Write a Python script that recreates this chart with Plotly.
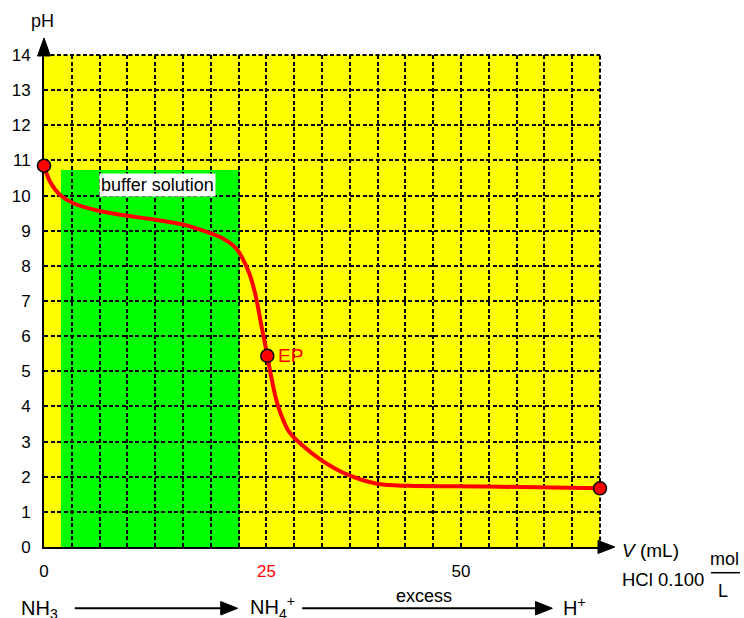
import plotly.graph_objects as go

# ---------------- data ----------------
volume_ml = [0, 0.67, 1.8, 3.3, 6.25, 9.2, 12.6, 15.9, 17.9, 20.1, 21.6, 22.3, 23.07, 23.6,
             24.0, 24.4, 24.75, 25.1, 25.5, 26.0, 26.6, 27.5, 29.0, 31.25, 34.2, 37.6, 41.0, 50.0, 62.5]
ph_values = [10.85, 10.40, 10.02, 9.78, 9.56, 9.43, 9.31, 9.16, 9.00, 8.78, 8.50, 8.22, 7.79, 7.35,
             6.90, 6.35, 5.90, 5.44, 4.90, 4.30, 3.80, 3.30, 2.90, 2.46, 2.05, 1.79, 1.74, 1.72, 1.67]

marker_x = [0, 25.1, 62.5]
marker_y = [10.85, 5.44, 1.67]

buffer_x = [1.9, 22.0]
buffer_ph_top = 10.73
buffer_label = "buffer solution"
buffer_label_pos = (12.8, 10.3)

x_tick_pos = [0, 25, 46.875]
x_tick_labels = ["0", "<span style='color:#FF0000'>25</span>", "50"]
x_grid_step = 3.125
x_max = 62.5
y_ticks = list(range(0, 15))

FONT = "Liberation Sans, Arial, sans-serif"

# plot area in pixels (for outside-plot annotations)
L, R, T, B = 40, 600, 55, 547
def px(x):
    return (x - L) / (R - L)
def py(y):
    return (B - y) / (B - T)

fig = go.Figure()

fig.add_trace(go.Scatter(
    x=volume_ml, y=ph_values, mode="lines",
    line=dict(color="#FF0000", width=4, shape="spline", smoothing=0.9),
    cliponaxis=False, hoverinfo="skip", showlegend=False))

fig.add_trace(go.Scatter(
    x=marker_x, y=marker_y, mode="markers",
    marker=dict(color="#FF0000", size=13, line=dict(color="black", width=1.5)),
    cliponaxis=False, showlegend=False))

shapes = []
# buffer region
shapes.append(dict(type="rect", xref="x", yref="y", x0=buffer_x[0], x1=buffer_x[1],
                   y0=0, y1=buffer_ph_top, fillcolor="#00FF00", line=dict(width=0), layer="below"))
# dashed top / right border
shapes.append(dict(type="line", xref="paper", yref="paper", x0=0, x1=1, y0=1, y1=1,
                   line=dict(color="black", width=2, dash="4px,2.5px"), layer="below"))
shapes.append(dict(type="line", xref="paper", yref="paper", x0=1, x1=1, y0=0, y1=1,
                   line=dict(color="black", width=2, dash="4px,2.5px"), layer="below"))

def tri(points):
    d = "M " + " L ".join(f"{px(a):.5f},{py(b):.5f}" for a, b in points) + " Z"
    return dict(type="path", xref="paper", yref="paper", path=d,
                fillcolor="black", line=dict(color="black", width=1))

def hline(x0, x1, y, w=2):
    return dict(type="line", xref="paper", yref="paper", x0=px(x0), x1=px(x1),
                y0=py(y), y1=py(y), line=dict(color="black", width=w))

# axis arrow heads
shapes.append(tri([(33.5, 56), (46.5, 56), (40, 38)]))
shapes.append(tri([(598, 540.5), (598, 553.5), (615, 547)]))
# reaction arrows
shapes.append(hline(71, 220, 608.3))
shapes.append(tri([(218, 601.5), (218, 615), (235, 608.3)]))
shapes.append(hline(300, 537, 608.3))
shapes.append(tri([(535, 601.5), (535, 615), (552, 608.3)]))
# fraction bar
shapes.append(hline(711.7, 741, 572.7, 1.5))

annotations = []
def txt(text, x, y, size=18, xanchor="center", yanchor="middle", color="black"):
    annotations.append(dict(text=text, x=px(x), y=py(y), xref="paper", yref="paper",
                            showarrow=False, xanchor=xanchor, yanchor=yanchor,
                            font=dict(family=FONT, size=size, color=color)))

txt("pH", 38, 21, size=18)
txt("<i>V</i> (mL)", 620, 550, size=19, xanchor="left")
txt("HCl 0.100", 620, 579, size=18.5, xanchor="left")
txt("mol", 725, 559)
txt("L", 724, 591)
txt("NH<sub>3</sub>", 15, 609, size=20, xanchor="left")
txt("NH<sub>4</sub><sup>+</sup>", 245, 607, size=20, xanchor="left")
txt("excess", 422.5, 595.5, size=18)
txt("H<sup>+</sup>", 561, 606, size=20, xanchor="left")

annotations.append(dict(text=buffer_label, x=buffer_label_pos[0], y=buffer_label_pos[1],
                        xref="x", yref="y", showarrow=False, bgcolor="white", borderpad=1,
                        font=dict(family=FONT, size=18, color="black")))
annotations.append(dict(text="EP", x=marker_x[1], y=marker_y[1], xref="x", yref="y",
                        showarrow=False, xanchor="left", xshift=9,
                        font=dict(family=FONT, size=19, color="#FF0000")))

fig.update_layout(
    width=744, height=618,
    margin=dict(l=L, r=744 - R, t=T, b=618 - B, pad=0),
    paper_bgcolor="white", plot_bgcolor="#FFFF00",
    font=dict(family=FONT, size=17, color="black"),
    shapes=shapes, annotations=annotations,
    xaxis=dict(range=[0, x_max], tickvals=x_tick_pos, ticktext=x_tick_labels,
               showgrid=False, zeroline=False, showline=True, linecolor="black", linewidth=2,
               ticks="", ticklabelstandoff=8, layer="below traces",
               minor=dict(tick0=0, dtick=x_grid_step, showgrid=True, griddash="4px,2.5px",
                          gridcolor="black", gridwidth=2, ticks=""),
               fixedrange=True),
    yaxis=dict(range=[0, 14], tickvals=y_ticks, showgrid=True, griddash="4px,2.5px",
               gridcolor="black", gridwidth=2, zeroline=False, showline=True,
               linecolor="black", linewidth=2, ticks="", ticklabelstandoff=8,
               layer="below traces", fixedrange=True),
)

fig.write_html("out.html", config={"displayModeBar": False},
               post_script="document.body.style.margin='0';document.body.style.overflow='hidden';")
